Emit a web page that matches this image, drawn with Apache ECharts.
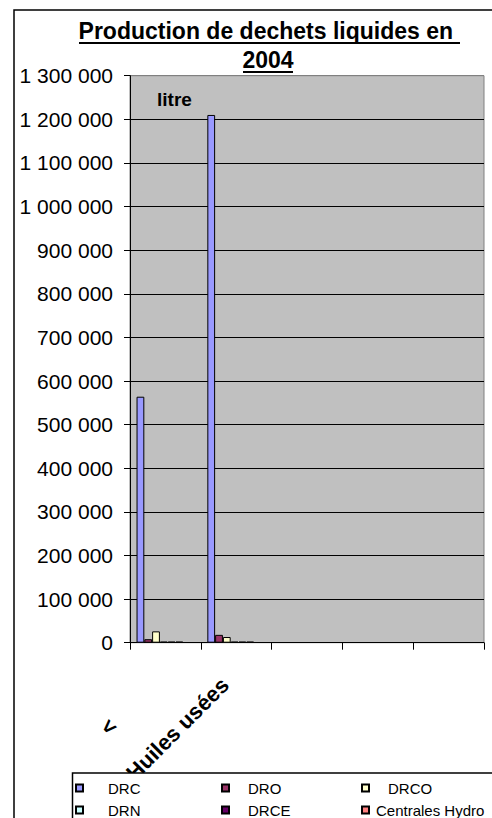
<!DOCTYPE html>
<html>
<head>
<meta charset="utf-8">
<script src="https://cdn.jsdelivr.net/npm/echarts@6/dist/echarts.min.js"></script>
<style>
html,body{margin:0;padding:0;background:#fff;}
#chart{width:492px;height:818px;}
</style>
</head>
<body>
<div id="chart"></div>
<script>
// ---- data ----
const categories = ['<', 'Huiles usées', '', '', ''];
const seriesNames = ['DRC', 'DRO', 'DRCO', 'DRN', 'DRCE', 'Centrales Hydro'];
const drc   = [564000, 1210000, null, null, null];
const dro   = [8000, 18000, null, null, null];
const drco  = [26000, 13000, null, null, null];
const drn   = [2500, 2500, null, null, null];
const drce  = [2500, 2500, null, null, null];
const hydro = [2500, 2500, null, null, null];
const yMin = 0, yMax = 1300000, yStep = 100000;
const titleLines = ['Production de dechets liquides en ', '2004'];
const unitLabel = 'litre';

// ---- styles ----
const palette = ['#9999FF', '#993366', '#FFFFCC', '#CCFFFF', '#660066', '#FF8080'];
const FONT = '"Liberation Sans", Arial, sans-serif';
const values = [drc, dro, drco, drn, drce, hydro];

const fmt = v => String(v).replace(/\B(?=(\d{3})+(?!\d))/g, ' ');

const plot = {left: 130, right: 8, top: 75.7, bottom: 175.3};
const shift = 5.5;

const splitColors = [];
for (let v = yMin; v <= yMax; v += yStep) splitColors.push(v === yMax ? '#808080' : '#000000');

const chart = echarts.init(document.getElementById('chart'), null, {renderer: 'svg'});

const option = {
  animation: false,
  backgroundColor: '#ffffff',
  textStyle: {fontFamily: FONT},
  grid: [
    {left: plot.left, right: plot.right, top: plot.top, bottom: plot.bottom,
     show: true, backgroundColor: '#C0C0C0', borderColor: '#808080', borderWidth: 1},
    {left: plot.left - shift, right: plot.right + shift, top: plot.top, bottom: plot.bottom, show: false}
  ],
  xAxis: [
    {type: 'category', gridIndex: 0, data: categories, boundaryGap: true,
     axisLine: {show: true, lineStyle: {color: '#000', width: 1}},
     axisTick: {show: true, interval: 0, length: 7, lineStyle: {color: '#000', width: 1}},
     axisLabel: {show: false, interval: 0}, splitLine: {show: false}},
    {type: 'category', gridIndex: 1, data: categories, boundaryGap: true,
     axisLine: {show: false}, axisTick: {show: false}, splitLine: {show: false},
     axisLabel: {show: true, interval: 0, rotate: 45, margin: 33,
       fontSize: 22, fontWeight: 'bold', color: '#000', fontFamily: FONT,
       formatter: (v, i) => i === 0 ? '{p|' + v + '}' : (v ? '{q|' + v + '}' : ''),
       rich: {
         p: {fontSize: 22, fontWeight: 'bold', color: '#000', fontFamily: FONT, padding: [0, 66, 0, 0]},
         q: {fontSize: 22, fontWeight: 'bold', color: '#000', fontFamily: FONT, padding: [0, 8, 0, 0]}
       }}}
  ],
  yAxis: [
    {type: 'value', gridIndex: 0, min: yMin, max: yMax, interval: yStep,
     axisLine: {show: true, lineStyle: {color: '#000', width: 1}},
     axisTick: {show: true, length: 6, lineStyle: {color: '#000', width: 1}},
     axisLabel: {show: true, margin: 17, fontSize: 21, color: '#000', fontFamily: FONT, formatter: fmt},
     splitLine: {show: true, lineStyle: {color: splitColors, width: 1}}},
    {type: 'value', gridIndex: 1, min: yMin, max: yMax, interval: yStep, show: false,
     splitLine: {show: false}}
  ],
  legend: [
    {orient: 'vertical', left: 75, top: 780, padding: 0, itemGap: 6, z: 100,
     icon: 'rect', itemWidth: 7, itemHeight: 7,
     textStyle: {fontSize: 15, color: '#000', lineHeight: 16, fontFamily: FONT},
     data: [{name: seriesNames[0], textStyle: {padding: [0, 0, 0, 20]}},
            {name: seriesNames[3], textStyle: {padding: [0, 0, 0, 20]}}]},
    {orient: 'vertical', left: 221, top: 780, padding: 0, itemGap: 6, z: 100,
     icon: 'rect', itemWidth: 7, itemHeight: 7,
     textStyle: {fontSize: 15, color: '#000', lineHeight: 16, fontFamily: FONT},
     data: [{name: seriesNames[1], textStyle: {padding: [0, 0, 0, 14]}},
            {name: seriesNames[4], textStyle: {padding: [0, 0, 0, 14]}}]},
    {orient: 'vertical', left: 361, top: 780, padding: 0, itemGap: 6, z: 100,
     icon: 'rect', itemWidth: 7, itemHeight: 7,
     textStyle: {fontSize: 15, color: '#000', lineHeight: 16, fontFamily: FONT},
     data: [{name: seriesNames[2], textStyle: {padding: [0, 0, 0, 14]}},
            {name: seriesNames[5], textStyle: {padding: [0, 0, 0, 2]}}]}
  ],
  graphic: {elements: [
    {type: 'rect', z: 1, silent: true, shape: {x: 14, y: 10, width: 600, height: 900},
     style: {fill: 'none', stroke: '#000', lineWidth: 1.5}},
    {type: 'text', z: 60, x: 269, y: 31,
     style: {text: titleLines[0], font: 'bold 23px ' + FONT, align: 'center', verticalAlign: 'middle', fill: '#000'}},
    {type: 'text', z: 60, x: 268, y: 60,
     style: {text: titleLines[1], font: 'bold 23px ' + FONT, align: 'center', verticalAlign: 'middle', fill: '#000'}},
    {type: 'line', z: 60, shape: {x1: 79, y1: 43, x2: 460, y2: 43}, style: {stroke: '#000', lineWidth: 2}},
    {type: 'line', z: 60, shape: {x1: 243, y1: 72, x2: 293, y2: 72}, style: {stroke: '#000', lineWidth: 2}},
    {type: 'text', z: 60, x: 157, y: 99,
     style: {text: unitLabel, font: 'bold 19px ' + FONT, align: 'left', verticalAlign: 'middle', fill: '#000'}},
    {type: 'rect', z: 50, silent: true, shape: {x: 72.5, y: 773, width: 440, height: 60},
     style: {fill: '#ffffff', stroke: '#000', lineWidth: 1.5}}
  ]},
  series: seriesNames.map((name, i) => ({
    name: name, type: 'bar', xAxisIndex: 1, yAxisIndex: 1,
    data: values[i], barGap: '0%', barCategoryGap: '34%',
    itemStyle: {color: palette[i], borderColor: '#000', borderWidth: 1},
    emphasis: {disabled: true}
  }))
};
chart.setOption(option);
</script>
</body>
</html>
